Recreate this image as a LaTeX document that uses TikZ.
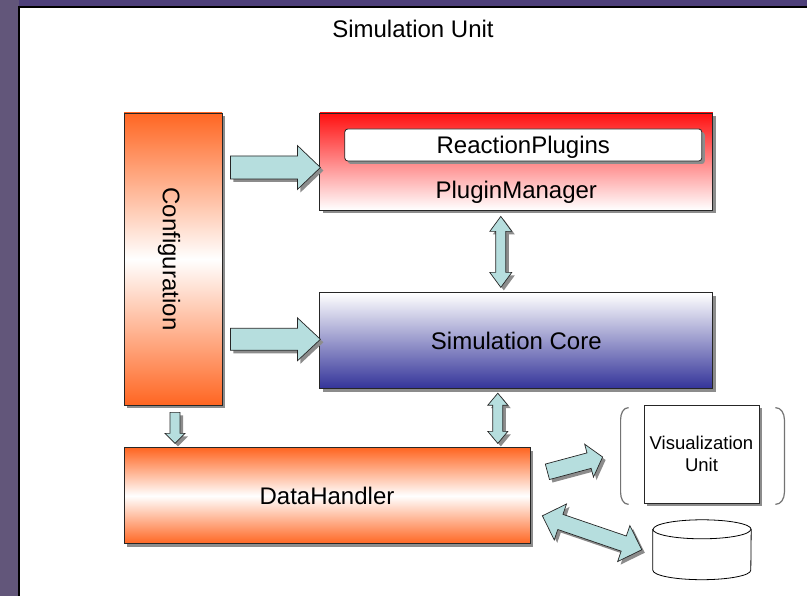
\documentclass[tikz,border=0pt]{standalone}
\usepackage{fontspec}
\setmainfont{Liberation Sans}
\usetikzlibrary{positioning, calc, shadows}
\definecolor{cfgorange}{RGB}{255, 102, 34}
\definecolor{pmred}{RGB}{255, 16, 16}
\definecolor{coreblue}{RGB}{51, 51, 153}
\definecolor{arrowcyan}{RGB}{182, 222, 222}
\definecolor{bgpurple}{RGB}{98, 86, 122}
\definecolor{bgtop}{RGB}{78, 64, 122}
\tikzstyle{boxshadow} = [drop shadow={shadow xshift=3pt, shadow yshift=-3pt, fill=black!45, opacity=1}]
\tikzstyle{unit} = [rectangle, draw=black!85, line width=0.8pt, boxshadow, inner sep=0pt,
                    font=\fontsize{24}{28}\selectfont]
\tikzstyle{orangeunit} = [unit, top color=cfgorange, bottom color=cfgorange, middle color=white]
\tikzstyle{fat} = [draw=black!85, line width=0.7pt, fill=arrowcyan, boxshadow]
\tikzstyle{bracket} = [draw=black!55, line width=1.2pt]
\tikzset{
  fat single/.style n args={3}{fat, to path={
    let \p1=(\tikztostart), \p2=(\tikztotarget),
        \n1={atan2(\y2-\y1,\x2-\x1)}, \n2={veclen(\x2-\x1,\y2-\y1)} in
    ($(\p1)+(\n1+90:#1)$) -- ($(\p1)+(\n1:\n2-#3)+(\n1+90:#1)$)
    -- ($(\p1)+(\n1:\n2-#3)+(\n1+90:#2)$) -- (\p2)
    -- ($(\p1)+(\n1:\n2-#3)+(\n1-90:#2)$) -- ($(\p1)+(\n1:\n2-#3)+(\n1-90:#1)$)
    -- ($(\p1)+(\n1-90:#1)$) -- cycle}},
  fat double/.style n args={3}{fat, to path={
    let \p1=(\tikztostart), \p2=(\tikztotarget),
        \n1={atan2(\y2-\y1,\x2-\x1)}, \n2={veclen(\x2-\x1,\y2-\y1)} in
    (\p1) -- ($(\p1)+(\n1:#3)+(\n1+90:#2)$) -- ($(\p1)+(\n1:#3)+(\n1+90:#1)$)
    -- ($(\p1)+(\n1:\n2-#3)+(\n1+90:#1)$) -- ($(\p1)+(\n1:\n2-#3)+(\n1+90:#2)$)
    -- (\p2)
    -- ($(\p1)+(\n1:\n2-#3)+(\n1-90:#2)$) -- ($(\p1)+(\n1:\n2-#3)+(\n1-90:#1)$)
    -- ($(\p1)+(\n1:#3)+(\n1-90:#1)$) -- ($(\p1)+(\n1:#3)+(\n1-90:#2)$) -- cycle}}
}

\begin{document}
\begin{tikzpicture}[x=1pt, y=-1pt]
    \useasboundingbox (0,0) rectangle (807,596);
    % Backdrop and sheet
    \fill[bgpurple] (0,0) rectangle (807,596);
    \fill[bgtop] (19,0) rectangle (807,7);
    \fill[white] (19,7) rectangle (807,596);
    \draw[line width=1.2pt] (19,596) -- (19,7) -- (807,7);
    \node[anchor=base, font=\fontsize{24}{28}\selectfont] (title) at (413,38) {Simulation Unit};

    % Units
    \node[orangeunit, minimum width=98pt, minimum height=292pt] (config) at (173,259)
        {\hspace*{-8pt}\rotatebox{-90}{Configuration}};
    \node[unit, top color=pmred, bottom color=white, minimum width=393pt, minimum height=97pt,
          text height=75pt, text depth=0pt, right=97pt of config.north east, anchor=north west] (pm) {PluginManager};
    \node[unit, fill=white, rounded corners=3pt, minimum width=357pt, minimum height=32pt, text depth=0pt,
          below right=16pt and 25pt of pm.north west, anchor=north west] (plugins) {ReactionPlugins};
    \node[unit, top color=white, bottom color=coreblue, minimum width=393pt, minimum height=96pt,
          below=82pt of pm] (core) {Simulation Core};
    \node[orangeunit, minimum width=406pt, minimum height=96pt,
          below=42pt of config.south west, anchor=north west] (data) {DataHandler};

    % Output side
    \node[unit, fill=white, minimum width=115pt, minimum height=98pt, align=center,
          font=\fontsize{18.5}{22}\selectfont] (vis) at (701.5,454) {Visualization\\Unit};
    \draw[bracket] ($(vis.north west)+(-15,3)$) to[out=180, in=90] ($(vis.north west)+(-23,15)$)
        -- ($(vis.south west)+(-23,-11)$) to[out=-90, in=180] ($(vis.south west)+(-15,1)$);
    \draw[bracket] ($(vis.north east)+(16,3)$) to[out=0, in=90] ($(vis.north east)+(25,15)$)
        -- ($(vis.south east)+(25,-11)$) to[out=-90, in=0] ($(vis.south east)+(16,1)$);
    \node[minimum width=98pt, minimum height=59.5pt] (disk) at (702,549.75) {};
    \draw[line width=0.8pt, fill=white] ([yshift=-9.5pt]disk.north west) -- ([yshift=9.5pt]disk.south west)
        arc[start angle=180, end angle=360, x radius=49pt, y radius=9.5pt]
        -- ([yshift=-9.5pt]disk.north east)
        arc[start angle=0, end angle=180, x radius=49pt, y radius=9.5pt] -- cycle;
    \draw[line width=0.8pt] ([yshift=-9.5pt]disk.north west)
        arc[start angle=180, end angle=360, x radius=49pt, y radius=9.5pt];

    % Block arrows
    \draw[fat single={11.5pt}{22pt}{23pt}] ($(config.east |- pm.west)+(8,6)$) to ($(pm.west)+(1,6)$);
    \draw[fat single={11pt}{21.5pt}{23pt}] ($(config.east |- core.west)+(8,-1.5)$) to ($(core.west)+(1,-1.5)$);
    \draw[fat single={5pt}{10pt}{10pt}] ($(config.south)+(2,7)$) to ($(config.south)+(2,38)$);
    \draw[fat double={5pt}{11pt}{15pt}] ($(pm.south)+(-15.5,6)$) to ($(core.north)+(-15.5,-5)$);
    \draw[fat double={5pt}{10pt}{12pt}] ($(core.south)+(-18.5,4)$) to ($(data.north -| core.south)+(-18.5,-4)$);
    \draw[fat single={8pt}{17pt}{14pt}] ($(data.east)+(17,-24)$) to ($(vis.west)+(-41,3)$);
    \draw[fat double={8pt}{19pt}{19pt}] ($(data.east)+(12,20)$) to ($(disk.west)+(-11,0)$);
\end{tikzpicture}
\end{document}
